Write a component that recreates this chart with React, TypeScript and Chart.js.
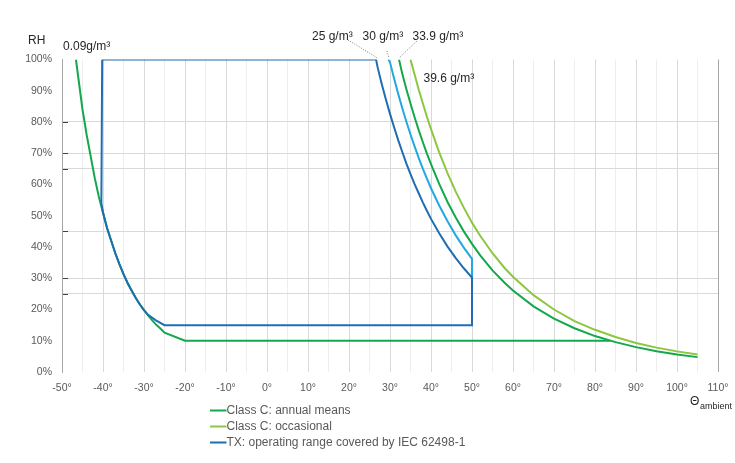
import React, { useEffect, useRef } from "react";
import { Chart, registerables } from "chart.js";

Chart.register(...registerables);

const FONT = "'Liberation Sans', Arial, sans-serif";

// ---- axis ticks ----
const xTicks = [-50, -45, -40, -35, -30, -25, -20, -15, -10, -5, 0, 5, 10, 15, 20, 25, 30, 35, 40, 45, 50, 55, 60, 65, 70, 75, 80, 85, 90, 95, 100, 105, 110];
const yTicks = [0, 10, 20, 25, 30, 40, 45, 50, 60, 65, 70, 80, 90, 100];
const yLabelTicks = [0, 10, 20, 30, 40, 50, 60, 70, 80, 90, 100];
const yGridLines = [25, 30, 45, 65, 70, 80];

// ---- Class C: annual means, lower limit (0.09 g/m³) + 10 % floor ----
const annualLowT = [-46.6, -46, -45, -44, -43, -42, -41, -40, -39, -38, -37, -36, -35, -34, -33, -32, -31, -30, -29, -28, -27, -26, -25, -20, 83.7];
const annualLowRH = [100, 94, 84, 76, 69, 62, 56, 51, 46, 42, 38, 34.5, 31.3, 28.5, 26, 23.7, 21.6, 19.8, 18.1, 16.5, 15.1, 13.9, 12.6, 10, 10];

// ---- Class C: annual means, upper limit (33.9 g/m³) ----
const annualHighT = [32.2, 33, 34, 35, 36, 37, 38, 39, 40, 42, 44, 46, 48, 50, 52, 55, 58, 60, 65, 70, 75, 80, 85, 90, 95, 100, 105];
const annualHighRH = [100, 95.4, 90.5, 85.9, 81.5, 77.4, 73.6, 69.9, 66.5, 60.2, 54.5, 49.5, 45.0, 41.0, 37.3, 32.5, 28.5, 26.1, 21.0, 17.1, 14.0, 11.5, 9.55, 7.96, 6.67, 5.62, 4.76];

// ---- Class C: occasional (39.6 g/m³) ----
const occasionalT = [35.0, 36, 37, 38, 39, 40, 42, 44, 46, 48, 50, 52, 55, 58, 60, 65, 70, 75, 80, 85, 90, 95, 100, 105];
const occasionalRH = [100, 95.2, 90.4, 86.0, 81.7, 77.7, 70.3, 63.7, 57.8, 52.6, 47.8, 43.6, 38.0, 33.2, 30.5, 24.6, 20.0, 16.3, 13.5, 11.2, 9.3, 7.8, 6.6, 5.6];

// ---- TX: operating range covered by IEC 62498-1 (25 g/m³ upper limit) ----
const txT = [-40.2, 26.6, 27, 28, 29, 30, 31, 32, 33, 34, 35, 36, 37, 38, 39, 40, 42, 44, 46, 48, 50, 50, -25, -27.2, -29, -30, -31, -32, -33, -34, -35, -36, -37, -38, -39, -40, -40.4, -40.2];
const txRH = [100, 100, 97.4, 92.1, 87.2, 82.6, 78.3, 74.2, 70.4, 66.7, 63.3, 60.1, 57.2, 54.3, 51.6, 49.0, 44.4, 40.2, 36.5, 33.2, 30.2, 15, 15, 16.6, 18.3, 19.8, 21.6, 23.7, 26, 28.5, 31.3, 34.5, 38, 42, 46, 51, 54, 100];

// ---- 30 g/m³ line (not in legend) ----
const line30T = [29.6, 30, 31, 32, 33, 34, 35, 36, 37, 38, 39, 40, 42, 44, 46, 48, 50, 50];
const line30RH = [100, 99.1, 93.9, 89.0, 84.4, 80.1, 76.0, 72.2, 68.5, 65.1, 61.9, 58.8, 53.3, 48.3, 43.8, 39.8, 36.2, 30.2];

const legendLabels = ["Class C: annual means", "Class C: occasional", "TX: operating range covered by IEC 62498-1"];

const C_GREEN = "#13a84b";
const C_LIGHT = "#8dc641";
const C_BLUE = "#1f6db2";
const C_CYAN = "#22a9e1";
const legendColors = [C_GREEN, C_LIGHT, C_BLUE];

const pts = (xs: number[], ys: number[]) => xs.map((x, i) => ({ x, y: ys[i] }));

const annotatePlugin = {
  id: "annotate",
  afterDraw(chart: any) {
    const { ctx, chartArea, scales } = chart;
    const xs = scales.x;
    const ys = scales.y;
    ctx.save();

    // small inner tick marks on the RH axis
    ctx.strokeStyle = "#404040";
    ctx.lineWidth = 1;
    yGridLines.forEach((v) => {
      const y = Math.round(ys.getPixelForValue(v)) + 0.5;
      ctx.beginPath();
      ctx.moveTo(chartArea.left + 1, y);
      ctx.lineTo(chartArea.left + 6, y);
      ctx.stroke();
    });

    // axis titles
    ctx.textBaseline = "middle";
    ctx.textAlign = "left";
    ctx.fillStyle = "#262626";
    ctx.font = `12px ${FONT}`;
    ctx.fillText("RH", 28, 41);
    ctx.fillText("Θ", 690, 402);
    ctx.font = `9px ${FONT}`;
    ctx.fillText("ambient", 700, 407);

    // curve labels
    ctx.font = `12px ${FONT}`;
    ctx.fillText("0.09g/m³", 63, 47);
    ctx.fillText("25 g/m³", 312, 36.5);
    ctx.fillText("30 g/m³", 362.5, 36.5);
    ctx.fillText("33.9 g/m³", 412.5, 36.5);
    ctx.fillText("39.6 g/m³", 423.5, 79);

    // leader lines
    const top = chartArea.top;
    ctx.strokeStyle = "#808080";
    ctx.setLineDash([1, 1.5]);
    const leaders: [number, number, number][] = [
      [348, 40, txT[1]],
      [387, 51, line30T[0]],
      [417, 41, annualHighT[0]],
    ];
    leaders.forEach(([x0, y0, t]) => {
      ctx.beginPath();
      ctx.moveTo(x0, y0);
      ctx.lineTo(xs.getPixelForValue(t) + 0.5, top - 2);
      ctx.stroke();
    });
    ctx.setLineDash([]);

    // legend
    ctx.font = `12px ${FONT}`;
    ctx.fillStyle = "#595959";
    legendLabels.forEach((lab, i) => {
      const y = 410.5 + i * 16;
      ctx.strokeStyle = legendColors[i];
      ctx.lineWidth = 2;
      ctx.beginPath();
      ctx.moveTo(210, y);
      ctx.lineTo(226.5, y);
      ctx.stroke();
      ctx.fillText(lab, 226.5, y);
    });

    ctx.restore();
  },
};

export default function App() {
  const ref = useRef<HTMLCanvasElement | null>(null);

  useEffect(() => {
    document.body.style.margin = "0";
    const canvas = ref.current;
    if (!canvas) return;
    Chart.defaults.font.family = FONT;

    const lineDs = (label: string, data: any[], color: string, order: number) => ({
      label,
      data,
      showLine: true,
      borderColor: color,
      backgroundColor: color,
      borderWidth: 2,
      pointRadius: 0,
      pointHoverRadius: 0,
      tension: 0,
      fill: false,
      order,
    });

    const chart = new Chart(canvas, {
      type: "scatter",
      data: {
        datasets: [
          lineDs("TX: operating range covered by IEC 62498-1", pts(txT, txRH), C_BLUE, 0),
          lineDs("30 g/m³", pts(line30T, line30RH), C_CYAN, 1),
          lineDs("Class C: annual means", pts(annualLowT, annualLowRH), C_GREEN, 2),
          lineDs("Class C: annual means (33.9 g/m³)", pts(annualHighT, annualHighRH), C_GREEN, 3),
          lineDs("Class C: occasional", pts(occasionalT, occasionalRH), C_LIGHT, 4),
        ],
      },
      options: {
        responsive: false,
        animation: false,
        events: [],
        layout: { padding: { left: 0, top: 59.5, right: 17, bottom: 0 } },
        plugins: {
          legend: { display: false },
          tooltip: { enabled: false },
        },
        scales: {
          x: {
            type: "linear",
            min: -50,
            max: 110,
            afterBuildTicks: (scale: any) => {
              scale.ticks = xTicks.map((v) => ({ value: v }));
            },
            afterFit: (scale: any) => {
              scale.height = 91;
              scale.paddingLeft = 0;
              scale.paddingRight = 0;
            },
            ticks: {
              autoSkip: false,
              maxRotation: 0,
              padding: 10,
              color: "#595959",
              font: { size: 10.5, family: FONT },
              callback: (v: any) => (Number(v) % 10 === 0 ? `${v}°` : ""),
            },
            grid: {
              drawTicks: false,
              color: (c: any) => {
                const v = c.tick ? c.tick.value : 0;
                if (v === 110) return "#a6a6a6";
                return v % 10 === 0 ? "#d9d9d9" : "#eeeeee";
              },
              lineWidth: 1,
            },
            border: { display: false },
          },
          y: {
            type: "linear",
            min: 0,
            max: 100,
            afterBuildTicks: (scale: any) => {
              scale.ticks = yTicks.map((v) => ({ value: v }));
            },
            afterFit: (scale: any) => {
              scale.width = 62;
              scale.paddingTop = 0;
              scale.paddingBottom = 0;
            },
            ticks: {
              autoSkip: false,
              padding: 10,
              color: "#595959",
              font: { size: 10.5, family: FONT },
              callback: (v: any) => (yLabelTicks.includes(Number(v)) ? `${v}%` : ""),
            },
            grid: {
              drawTicks: false,
              color: (c: any) => (c.tick && yGridLines.includes(c.tick.value) ? "#d9d9d9" : "rgba(0,0,0,0)"),
              lineWidth: 1,
            },
            border: { display: true, color: "#a6a6a6", width: 1 },
          },
        },
      },
      plugins: [annotatePlugin],
    });

    return () => chart.destroy();
  }, []);

  return (
    <div style={{ width: 735, height: 463, background: "#fff", overflow: "hidden" }}>
      <canvas ref={ref} width={735} height={463} style={{ display: "block" }} />
    </div>
  );
}
